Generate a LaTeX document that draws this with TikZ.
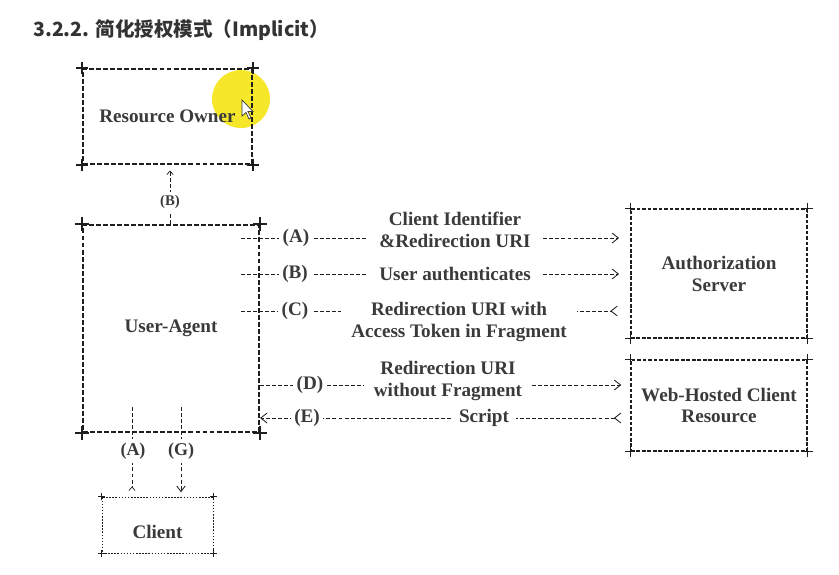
\documentclass[tikz,border=0pt]{standalone}
\usepackage{fontspec}
\setmainfont{Liberation Serif}
\newfontfamily\cjkfont{Noto Sans CJK SC}
\usetikzlibrary{arrows.meta}
\definecolor{oaink}{HTML}{1E1E1E}
\definecolor{oatext}{HTML}{3A3A3A}
\definecolor{oatitle}{HTML}{333333}
\definecolor{oahighlight}{HTML}{F6E72A}
\newlength\oapx
\setlength\oapx{0.025cm}
\newcommand{\oafont}{\fontsize{13.6}{15.6}\selectfont\bfseries}
% plus marks on the four corners of a box: [line width]{arm}{node}
\newcommand{\oacorners}[3][1.2pt]{%
  \foreach \corner in {north west,north east,south west,south east}
    \draw[oa corner, line width=#1] (#3.\corner) +(-#2,0) -- +(#2,0)
      +(0,-#2) -- +(0,#2);%
}
\tikzset{
  oa box/.style={draw=oaink, line width=1.3pt, dash pattern=on 3.5pt off 1.5pt,
    inner sep=0pt, text=oatext, font=\oafont, align=center},
  oa thin box/.style={oa box, line width=0.9pt, dash pattern=on 2.6pt off 1.3pt},
  oa dotted box/.style={oa box, line width=0.7pt, dash pattern=on 1.1pt off 1.1pt},
  oa size/.style 2 args={minimum width=#1\oapx, minimum height=#2\oapx},
  oa corner/.style={draw=oaink},
  oa flow/.style={draw=oaink, line width=0.65pt, dash pattern=on 2.8pt off 1.5pt},
  oa tip/.style={-{Straight Barb[length=4.5pt, width=7pt, line width=0.6pt]}},
  oa back tip/.style={-{Straight Barb[reversed, length=4.5pt, width=7pt, line width=0.6pt]}},
  oa step/.style={fill=white, text=oatext, font=\oafont, inner sep=2.5pt},
  oa small step/.style={oa step, font=\fontsize{10.5}{12}\selectfont\bfseries},
  oa message/.style={fill=white, text=oatext, font=\oafont, align=center,
    inner xsep=7pt, inner ysep=1pt},
}
\begin{document}
\begin{tikzpicture}[x=0.025cm, y=-0.025cm]
  \useasboundingbox (0,0) rectangle (839,574);
  \fill[white] (0,0) rectangle (839,574);

  \node[anchor=west, text=oatitle, inner sep=0pt,
    font=\cjkfont\fontsize{13.9}{16}\selectfont\bfseries] (title) at (33,30)
    {3.2.2. 简化授权模式（Implicit）};

  % highlight left by the screen recording
  \fill[oahighlight] (241,99) circle[radius=29];

  % boxes
  \node[oa box, oa size={169}{95}] (ro) at (167.5,116.5) {Resource Owner};
  \node[oa box, line width=1.5pt, oa size={176}{207}] (ua) at (171,328.5)
    {User-Agent};
  \node[oa thin box, oa size={176}{129}] (as) at (719,273.5)
    {Authorization\\Server};
  \node[oa thin box, line width=0.8pt, oa size={176}{91}] (wh) at (719,405.5)
    {Web-Hosted Client\\Resource};
  \node[oa dotted box, oa size={111}{56}, text height=20pt] (cl) at (157.5,525)
    {Client};
  \oacorners[1.3pt]{6}{ro}
  \oacorners[1.6pt]{7}{ua}
  \oacorners[1.1pt]{5}{as}
  \oacorners[1pt]{5}{wh}
  \oacorners[0.8pt]{3.5}{cl}

  % mouse pointer
  \filldraw[fill=white, draw=oatext, line width=0.5pt]
    (242,100) -- (242,116) -- (246,112.5) -- (249,119) -- (251,118)
    -- (248,111.5) -- (253,111.5) -- cycle;

  % rows between the user-agent and the servers
  \coordinate (rowA) at (0,238);
  \coordinate (rowB) at (0,274);
  \coordinate (rowC) at (0,311);
  \coordinate (rowD) at (0,385);
  \coordinate (rowE) at (0,418);
  \coordinate (tap) at (241,0);
  \draw[oa flow, oa tip, shorten >=8pt] (tap |- rowA) -- (as.west |- rowA);
  \draw[oa flow, oa tip, shorten >=8pt] (tap |- rowB) -- (as.west |- rowB);
  \draw[oa flow, oa back tip, shorten >=9pt] (tap |- rowC) -- (as.west |- rowC);
  \draw[oa flow, oa tip, shorten >=6.5pt] (ua.east |- rowD) -- (wh.west |- rowD);
  \draw[oa flow, {Straight Barb[reversed, length=4.5pt, width=7pt,
    line width=0.6pt]}-{Straight Barb[length=4.5pt, width=7pt, line width=0.6pt]},
    shorten <=6.5pt] (wh.west |- rowE) -- (ua.east |- rowE);

  \node[oa step] (stepA) at (296,238) {(A)};
  \node[oa step] (stepB) at (295,274) {(B)};
  \node[oa step] (stepC) at (295,311) {(C)};
  \node[oa step] (stepD) at (310,385) {(D)};
  \node[oa step] (stepE) at (307,418) {(E)};
  \node[oa message, inner xsep=9pt] (msgA) at (455,230)
    {Client Identifier\\\&Redirection URI};
  \node[oa message, inner xsep=9pt] (msgB) at (455,274) {User authenticates};
  \node[oa message] (msgC) at (459,322)
    {Redirection URI with\\Access Token in Fragment};
  \node[oa message] (msgD) at (448,381) {Redirection URI\\without Fragment};
  \node[oa message, inner xsep=5pt] (msgE) at (484,418) {Script};

  % resource owner and client legs
  \coordinate (legB) at (170,0);
  \coordinate (legA) at (132,407);
  \coordinate (legG) at (181,407);
  \draw[oa flow, -{Straight Barb[length=2.5pt, width=4.5pt, line width=0.5pt]},
    shorten >=4pt] (legB |- ua.north) -- (legB |- ro.south);
  \draw[oa flow, -{Straight Barb[reversed, length=2.5pt, width=4.5pt,
    line width=0.5pt]}, shorten >=4pt] (legA) -- (legA |- cl.north);
  \draw[oa flow, -{Straight Barb[length=4pt, width=6pt, line width=0.6pt]},
    shorten >=3pt] (legG) -- (legG |- cl.north);
  \node[oa small step] (stepRB) at (170,202) {(B)};
  \node[oa step, font=\fontsize{12.8}{14}\selectfont\bfseries] (stepCA)
    at (133,451) {(A)};
  \node[oa step, font=\fontsize{12.8}{14}\selectfont\bfseries] (stepCG)
    at (181,451) {(G)};
\end{tikzpicture}
\end{document}
